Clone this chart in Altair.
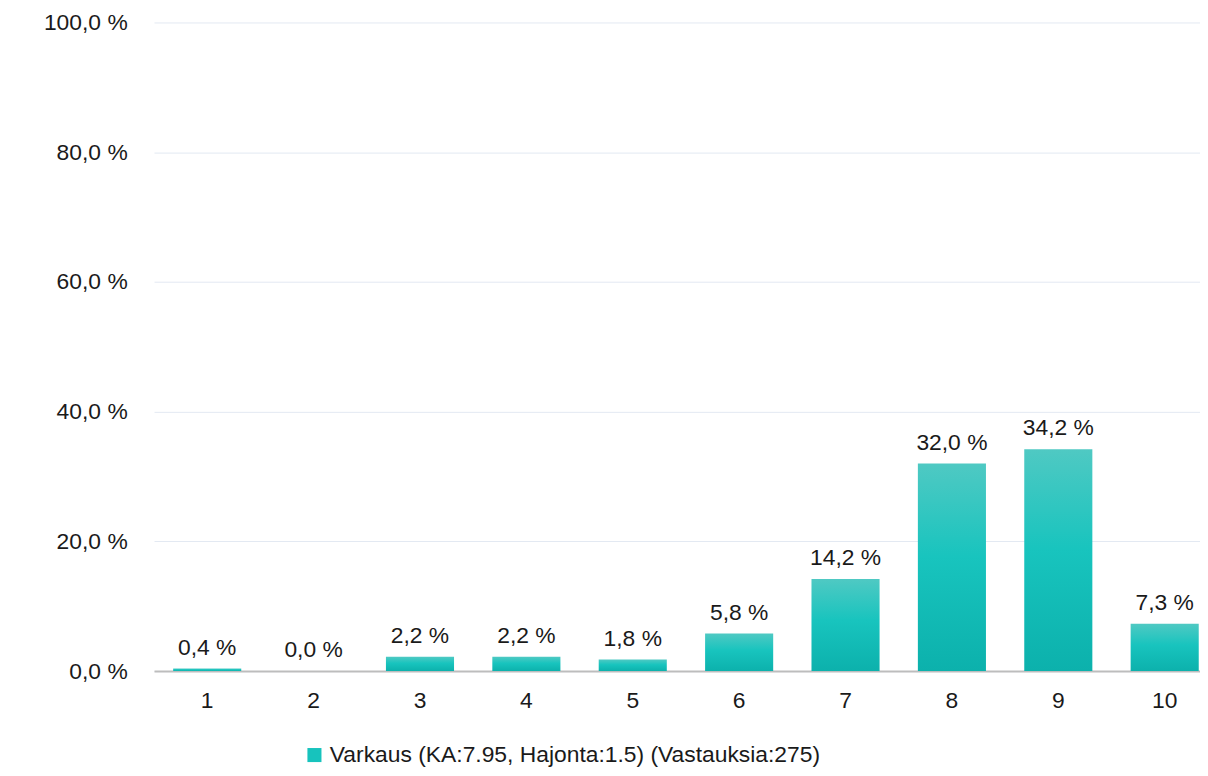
import altair as alt
import pandas as pd

categories = ["1", "2", "3", "4", "5", "6", "7", "8", "9", "10"]
values = [0.4, 0.0, 2.2, 2.2, 1.8, 5.8, 14.2, 32.0, 34.2, 7.3]
series_name = "Varkaus (KA:7.95, Hajonta:1.5) (Vastauksia:275)"
y_ticks = [0, 20, 40, 60, 80, 100]

df = pd.DataFrame({"cat": categories, "pct": values, "series": [series_name] * len(categories)})

FONT = "Liberation Sans"
FS = 23
TXT = "#1a1a1a"
grad = alt.Gradient(
    gradient="linear",
    stops=[
        alt.GradientStop(offset=0, color="#4FC9C3"),
        alt.GradientStop(offset=0.45, color="#18C4BE"),
        alt.GradientStop(offset=1, color="#0CB1AC"),
    ],
    x1=1, x2=1, y1=0, y2=1,
)

x = alt.X(
    "cat:N",
    sort=categories,
    scale=alt.Scale(paddingInner=0.36, paddingOuter=0.18, range=[0, 1071]),
    axis=alt.Axis(
        title=None, labelAngle=0, ticks=False, domainColor="#BDBDBD", domainWidth=2,
        labelFontSize=FS, labelFont=FONT, labelColor=TXT, labelPadding=19,
    ),
)
y = alt.Y(
    "pct:Q",
    scale=alt.Scale(domain=[0, 100], nice=False),
    axis=alt.Axis(
        title=None, values=y_ticks, domain=False, ticks=False,
        gridColor="#E3E9F2", gridWidth=1,
        labelExpr="replace(format(datum.value, '.1f'), '.', ',') + ' %'",
        labelFontSize=FS, labelFont=FONT, labelColor=TXT, labelPadding=27,
    ),
)

bars = alt.Chart(df).mark_bar(color=grad).encode(x=x, y=y)

labels = alt.Chart(df).transform_calculate(
    lab="replace(format(datum.pct, '.1f'), '.', ',') + ' %'"
).mark_text(
    baseline="alphabetic", dy=-14, fontSize=FS, font=FONT, color=TXT
).encode(x=x, y=y, text="lab:N")

legend_layer = alt.Chart(df).mark_point(size=0, shape="square", filled=True).encode(
    x=x, y=y,
    color=alt.Color(
        "series:N",
        scale=alt.Scale(range=["#17C3BD"]),
        legend=alt.Legend(
            title=None, orient="none", legendX=150, legendY=726,
            symbolType="square", symbolSize=200, symbolOpacity=1,
            symbolFillColor="#17C3BD", symbolStrokeWidth=0,
            labelFontSize=FS, labelFont=FONT, labelColor=TXT, labelLimit=1000,
            symbolOffset=0, labelOffset=4,
        ),
    ),
)

chart = alt.layer(bars, labels, legend_layer).properties(
    width=1053, height=653,
    padding={"left": 147, "top": 12, "right": 0, "bottom": 100},
    autosize=alt.AutoSizeParams(type="none"),
).configure(background="white").configure_view(stroke=None)

chart.save("out.html", embed_options={"renderer": "svg", "actions": False})
